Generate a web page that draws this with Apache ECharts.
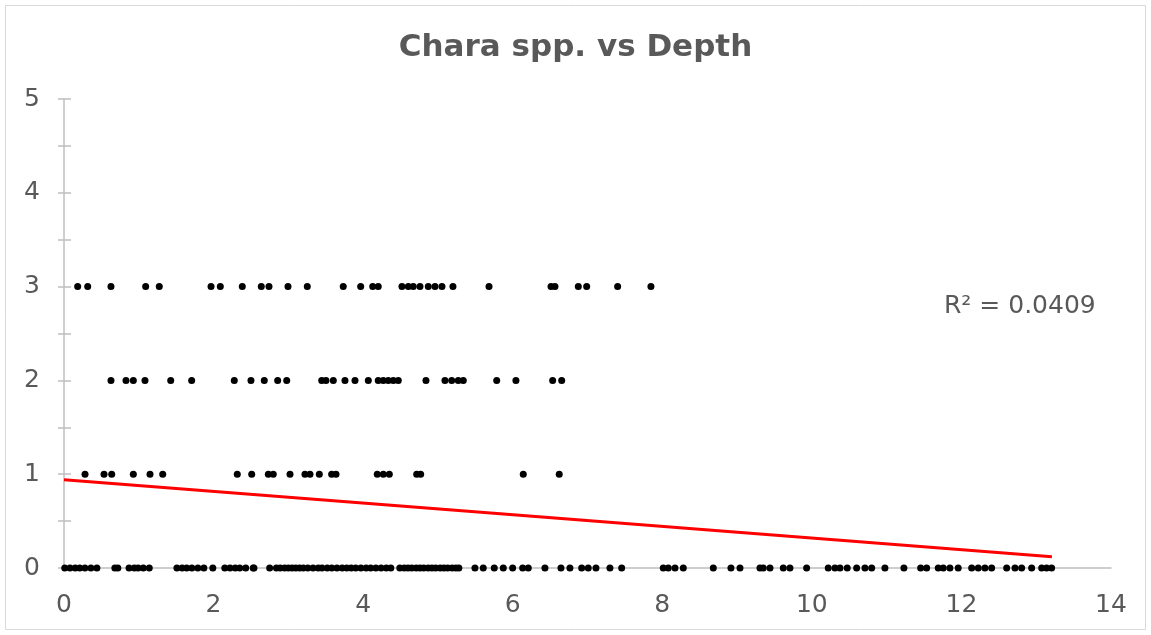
<!DOCTYPE html>
<html>
<head>
<meta charset="utf-8">
<script src="https://cdn.jsdelivr.net/npm/echarts@6/dist/echarts.min.js"></script>
<style>
  html, body { margin: 0; padding: 0; background: #fff; }
  #chart { width: 1151px; height: 635px; }
</style>
</head>
<body>
<div id="chart"></div>
<script>
  // depth values (m) for each Chara abundance level
  const depthAt0 = [0.01, 0.08, 0.15, 0.21, 0.28, 0.36, 0.44, 0.68, 0.72, 0.87, 0.94, 0.99, 1.06, 1.14,
    1.51, 1.58, 1.64, 1.71, 1.79, 1.87, 1.99, 2.15, 2.22, 2.29, 2.35, 2.43, 2.53,
    2.54, 2.75, 2.84, 2.89, 2.95, 3.0, 3.05, 3.1, 3.15, 3.2, 3.26, 3.33, 3.4, 3.45, 3.52, 3.58, 3.65,
    3.72, 3.78, 3.84, 3.9, 3.97, 4.04, 4.1, 4.17, 4.24, 4.31, 4.37, 4.49, 4.55, 4.6, 4.65, 4.71,
    4.76, 4.81, 4.87, 4.92, 4.97, 5.03, 5.08, 5.13, 5.19, 5.24, 5.28,
    5.495, 5.606, 5.753, 5.874, 5.999, 6.133, 6.208, 6.431, 6.645, 6.765, 6.922, 7.01, 7.113,
    7.3, 7.457, 8.013, 8.08, 8.17, 8.281, 8.682, 8.918, 9.039, 9.306, 9.35, 9.44, 9.618, 9.707,
    9.93, 10.219, 10.309, 10.376, 10.473, 10.599, 10.71, 10.8, 10.977, 11.231, 11.455, 11.535,
    11.69, 11.757, 11.846, 11.957, 12.137, 12.225, 12.314, 12.404, 12.605, 12.716, 12.805,
    12.939, 13.073, 13.139, 13.206];
  const depthAt1 = [0.281, 0.535, 0.638, 0.927, 1.15, 1.32, 2.317, 2.51, 2.732, 2.798, 3.022, 3.222,
    3.289, 3.414, 3.579, 3.637, 4.189, 4.269, 4.35, 4.716, 4.769, 6.141, 6.622];
  const depthAt2 = [0.628, 0.829, 0.927, 1.083, 1.427, 1.707, 2.277, 2.5, 2.678, 2.857, 2.978, 3.446,
    3.503, 3.601, 3.757, 3.891, 4.069, 4.202, 4.269, 4.336, 4.403, 4.47, 4.84, 5.094, 5.184,
    5.272, 5.339, 5.786, 6.043, 6.534, 6.655];
  const depthAt3 = [0.183, 0.317, 0.628, 1.092, 1.274, 1.966, 2.09, 2.384, 2.638, 2.741, 2.995, 3.253,
    3.734, 3.967, 4.128, 4.202, 4.519, 4.604, 4.67, 4.76, 4.871, 4.961, 5.054, 5.201, 5.683,
    6.512, 6.565, 6.877, 6.989, 7.403, 7.848];
  const levels = [0, 1, 2, 3];
  // linear trendline end points as drawn
  const trendX = [0, 13.21];
  const trendY = [0.94, 0.12];
  const r2Label = "R² = 0.0409";

  const points = [];
  [depthAt0, depthAt1, depthAt2, depthAt3].forEach((xs, i) => {
    xs.forEach((x) => points.push([x, levels[i]]));
  });
  const trend = trendX.map((x, i) => [x, trendY[i]]);

  const grey = "#595959";
  const lineGrey = "#bfbfbf";
  const font = "DejaVu Sans";
  const myChart = echarts.init(document.getElementById("chart"));
  const option = {
    animation: false,
    title: {
      text: "Chara spp. vs Depth",
      left: "center",
      top: 27,
      textStyle: { fontFamily: font, fontSize: 31, fontWeight: "bold", color: grey },
    },
    grid: { left: 64, right: 40, top: 99, bottom: 67 },
    xAxis: {
      type: "value",
      min: 0, max: 14, interval: 2,
      axisLine: { show: true, lineStyle: { color: lineGrey, width: 1.5 } },
      axisTick: { show: false },
      splitLine: { show: false },
      axisLabel: { fontFamily: font, fontSize: 25, color: grey, margin: 25 },
    },
    yAxis: [
      {
        type: "value",
        min: 0, max: 5, interval: 1,
        axisLine: { show: true, lineStyle: { color: lineGrey, width: 1.5 } },
        axisTick: { show: true, length: 6, lineStyle: { color: lineGrey, width: 1.5 } },
        minorTick: { show: true, splitNumber: 2, length: 6, lineStyle: { color: lineGrey, width: 1.5 } },
        splitLine: { show: false },
        axisLabel: { fontFamily: font, fontSize: 25, color: grey, margin: 24 },
      },
      {
        type: "value",
        position: "left",
        min: 0, max: 5, interval: 1,
        axisLine: { show: false },
        axisTick: { show: true, inside: true, length: 7, lineStyle: { color: lineGrey, width: 1.5 } },
        minorTick: { show: true, splitNumber: 2, length: 7, lineStyle: { color: lineGrey, width: 1.5 } },
        splitLine: { show: false },
        axisLabel: { show: false },
      },
    ],
    series: [
      {
        type: "scatter",
        data: points,
        symbolSize: 7,
        itemStyle: { color: "#000", opacity: 1 },
        z: 3,
      },
      {
        type: "line",
        data: trend,
        showSymbol: false,
        lineStyle: { color: "#ff0000", width: 3 },
        z: 4,
      },
    ],
    graphic: [
      {
        type: "rect",
        shape: { x: 5.5, y: 5.5, width: 1140, height: 624 },
        style: { fill: "none", stroke: "#d9d9d9", lineWidth: 1 },
        silent: true,
      },
      {
        type: "text",
        left: 944,
        top: 294,
        style: { text: r2Label, fontFamily: font, fontSize: 25, fill: grey },
      },
    ],
  };
  myChart.setOption(option);
</script>
</body>
</html>
